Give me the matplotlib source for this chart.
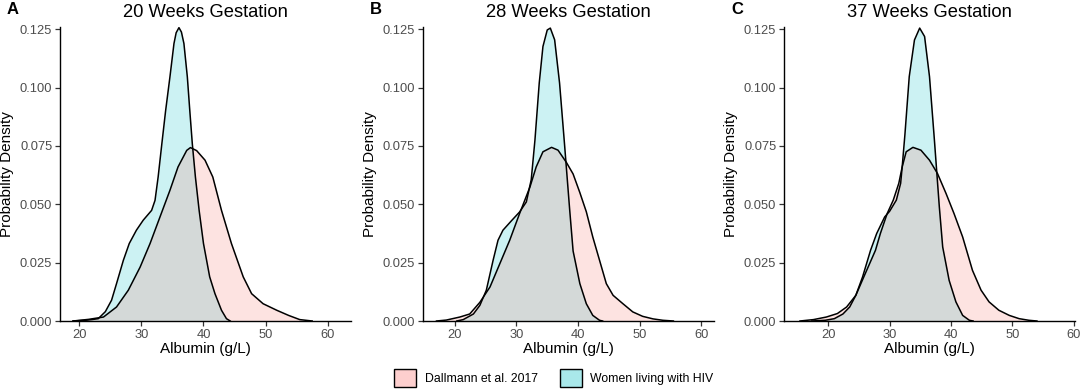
import matplotlib
matplotlib.use("Agg")
import matplotlib.pyplot as plt
from matplotlib.patches import Patch

plt.rcParams['font.family'] = ['Liberation Sans', 'DejaVu Sans']

# density curves (albumin g/L, density)
a_hiv_x = [19.0, 21.0, 22.0, 23.06, 24.2, 25.2, 26.0, 27.1, 28.05, 29.2, 30.3, 31.65, 32.2, 32.7,
           33.3, 33.9, 34.6, 35.25, 35.6, 36.05, 36.45, 36.85, 37.4, 37.8, 38.2, 38.7, 39.3,
           40.0, 41.0, 41.85, 42.9, 43.7, 44.3]
a_hiv_y = [0.0, 0.0003, 0.0006, 0.001, 0.004, 0.0089, 0.016, 0.026, 0.0332, 0.0389, 0.0432,
           0.0474, 0.0517, 0.0617, 0.076, 0.090, 0.1046, 0.1189, 0.1235, 0.1257, 0.1238, 0.1189,
           0.1046, 0.090, 0.076, 0.0617, 0.0474, 0.0332, 0.0189, 0.0117, 0.0046, 0.001, 0.0]
a_dal_x = [19.0, 21.5, 23.9, 26.0, 27.9, 29.8, 31.4, 33.0, 34.6, 35.9, 37.3, 37.9, 38.9, 40.25,
           41.5, 42.9, 44.5, 46.4, 47.75, 49.6, 51.8, 53.7, 55.5, 57.5]
a_dal_y = [0.0, 0.0007, 0.0017, 0.006, 0.0132, 0.0231, 0.0332, 0.0446, 0.056, 0.066, 0.0731,
           0.0743, 0.073, 0.0689, 0.0617, 0.0474, 0.0332, 0.0189, 0.0117, 0.0074, 0.0046,
           0.0024, 0.0006, 0.0]

b_hiv_x = [20.3, 21.35, 23.0, 24.05, 25.1, 26.2, 27.0, 27.8, 29.2, 30.5, 31.6, 32.4, 33.0, 33.7,
           34.3, 35.0, 35.5, 36.2, 37.0, 37.8, 38.65, 39.2, 40.3, 41.35, 42.4, 43.5, 44.0]
b_hiv_y = [0.0, 0.0006, 0.003, 0.0067, 0.0132, 0.026, 0.0346, 0.0389, 0.043, 0.0467, 0.051,
           0.0606, 0.0775, 0.102, 0.1176, 0.1247, 0.1255, 0.1205, 0.102, 0.076, 0.0475, 0.030,
           0.016, 0.0074, 0.0024, 0.0003, 0.0]
b_dal_x = [17.0, 18.6, 20.8, 22.4, 24.05, 25.7, 27.3, 28.9, 30.5, 32.2, 33.2, 34.3, 35.7, 36.75,
           38.1, 39.2, 40.3, 41.35, 42.4, 43.5, 44.6, 45.7, 47.3, 48.9, 50.5, 52.2, 53.8, 55.5]
b_dal_y = [0.0, 0.0004, 0.0017, 0.003, 0.008, 0.0146, 0.0246, 0.0346, 0.046, 0.0575, 0.066,
           0.0725, 0.0744, 0.0732, 0.068, 0.063, 0.055, 0.0468, 0.036, 0.026, 0.016, 0.011,
           0.0074, 0.0039, 0.002, 0.0009, 0.0003, 0.0]

c_hiv_x = [17.3, 19.5, 21.0, 22.4, 23.5, 24.5, 25.6, 26.9, 27.9, 29.2, 30.0, 31.1, 31.8, 32.05,
           32.5, 33.2, 34.05, 34.9, 35.7, 36.5, 37.3, 38.1, 38.65, 39.7, 40.8, 41.9, 43.0, 43.6]
c_hiv_y = [0.0, 0.0003, 0.001, 0.003, 0.006, 0.011, 0.0189, 0.0303, 0.0375, 0.0446, 0.047,
           0.0518, 0.059, 0.066, 0.080, 0.1047, 0.1204, 0.1255, 0.1219, 0.1047, 0.0775, 0.0489,
           0.0317, 0.0174, 0.0082, 0.0024, 0.0003, 0.0]
c_dal_x = [15.4, 17.6, 19.7, 21.5, 23.0, 24.5, 25.8, 27.7, 28.5, 29.6, 30.6, 31.5, 32.05, 32.7,
           33.8, 35.1, 36.5, 37.8, 39.2, 40.5, 41.9, 43.5, 44.9, 46.2, 47.8, 49.5, 51.1, 52.7, 54.0]
c_dal_y = [0.0, 0.0006, 0.0017, 0.0032, 0.006, 0.011, 0.0189, 0.0303, 0.0375, 0.046, 0.0518,
           0.059, 0.066, 0.0725, 0.0744, 0.0732, 0.0689, 0.0632, 0.0546, 0.046, 0.036, 0.0217,
           0.0132, 0.0082, 0.0046, 0.0024, 0.001, 0.0003, 0.0]

titles = ["20 Weeks Gestation", "28 Weeks Gestation", "37 Weeks Gestation"]
letters = ["A", "B", "C"]
series_names = ["Dallmann et al. 2017", "Women living with HIV"]
x_ticks = [20, 30, 40, 50, 60]
y_ticks = [0.000, 0.025, 0.050, 0.075, 0.100, 0.125]

panels = [
    (a_hiv_x, a_hiv_y, a_dal_x, a_dal_y, (16.9, 63.75)),
    (b_hiv_x, b_hiv_y, b_dal_x, b_dal_y, (14.76, 62.05)),
    (c_hiv_x, c_hiv_y, c_dal_x, c_dal_y, (12.8, 60.2)),
]

pink = "#F8766D"
teal = "#00BFC4"

W, H = 1084, 392
fig = plt.figure(figsize=(W / 100, H / 100), dpi=100)

lefts = [60, 422.7, 784]
ax_w = 291
ax_top, ax_bot = 26.7, 321

for i, (hx, hy, dx, dy, xlim) in enumerate(panels):
    ax = fig.add_axes([lefts[i] / W, 1 - ax_bot / H, ax_w / W, (ax_bot - ax_top) / H])
    ax.fill_between(hx, hy, color=teal, alpha=0.2, lw=0)
    ax.fill_between(dx, dy, color=pink, alpha=0.2, lw=0)
    ax.plot(hx, hy, color="black", lw=1.1, solid_joinstyle="round")
    ax.plot(dx, dy, color="black", lw=1.1, solid_joinstyle="round")

    ax.set_xlim(*xlim)
    ax.set_ylim(0, 0.1261)
    ax.set_xticks(x_ticks)
    ax.set_yticks(y_ticks)
    ax.set_yticklabels([f"{v:.3f}" for v in y_ticks])
    for s in ["top", "right"]:
        ax.spines[s].set_visible(False)
    for s in ["left", "bottom"]:
        ax.spines[s].set_linewidth(1.0)
        ax.spines[s].set_color("black")
    ax.tick_params(length=3.5, width=0.9, color="#333333", labelsize=9.3,
                   labelcolor="#4D4D4D", pad=2)
    ax.set_xlabel("Albumin (g/L)", fontsize=11, labelpad=1)
    ax.set_ylabel("Probability Density", fontsize=11, labelpad=4)
    ax.set_title(titles[i], fontsize=13.2, pad=7)

    fig.text((lefts[i] - 53) / W, 1 - 10 / H, letters[i], fontsize=12,
             fontweight="bold", ha="left", va="center")

handles = [
    Patch(facecolor="#FDCFCE", edgecolor="black", lw=1.0, label=series_names[0]),
    Patch(facecolor="#A9E8EA", edgecolor="black", lw=1.0, label=series_names[1]),
]
fig.legend(handles=handles, loc="center", bbox_to_anchor=(554 / W, 1 - 378 / H), ncol=2,
           frameon=False, fontsize=8.8, handlelength=1.8, handleheight=1.8,
           handletextpad=0.7, columnspacing=1.8)

fig.savefig("out.png", dpi=100)
